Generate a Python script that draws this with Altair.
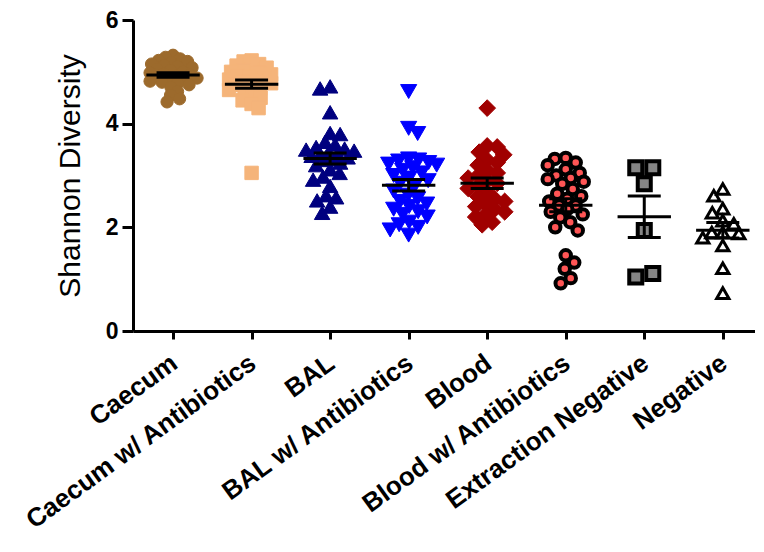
import math
import altair as alt
import pandas as pd

groups = ["Caecum", "Caecum w/ Antibiotics", "BAL", "BAL w/ Antibiotics", "Blood",
          "Blood w/ Antibiotics", "Extraction Negative", "Negative"]

caecum = [5.32, 5.28, 5.25, 5.22, 5.20, 5.18, 5.15, 5.12, 5.10, 5.08, 5.05, 5.03, 5.00, 4.98, 4.96,
          4.94, 4.92, 4.90, 4.88, 4.86, 4.84, 4.82, 4.80, 4.78, 4.75, 4.70, 4.62, 4.55, 4.48, 4.42]
caecum_abx = [5.22, 5.20, 5.15, 5.12, 5.08, 5.05, 5.02, 5.00, 4.98, 4.95, 4.92, 4.90, 4.88, 4.85,
              4.82, 4.80, 4.78, 4.75, 4.72, 4.68, 4.65, 4.60, 4.55, 4.50, 4.45, 4.38, 4.30, 3.05]
bal = [4.72, 4.68, 4.22, 3.82, 3.80, 3.65, 3.60, 3.55, 3.52, 3.50, 3.48, 3.45, 3.42, 3.40, 3.38,
       3.35, 3.32, 3.30, 3.25, 3.20, 3.12, 3.05, 2.98, 2.92, 2.80, 2.62, 2.58, 2.52, 2.40, 2.28]
bal_abx = [4.62, 3.91, 3.81, 3.32, 3.30, 3.28, 3.25, 3.22, 3.20, 3.15, 3.10, 3.05, 3.00, 2.95, 2.90,
           2.85, 2.78, 2.70, 2.62, 2.55, 2.50, 2.45, 2.40, 2.35, 2.30, 2.25, 2.20, 2.10, 2.05, 2.00,
           1.95, 1.85]
blood = [4.30, 3.57, 3.55, 3.45, 3.40, 3.30, 3.25, 3.20, 3.10, 3.05, 3.00, 2.95, 2.90, 2.85, 2.80,
         2.75, 2.68, 2.60, 2.55, 2.50, 2.45, 2.40, 2.35, 2.30, 2.25, 2.20, 2.10, 2.05]
blood_abx = [3.34, 3.32, 3.25, 3.20, 3.12, 3.05, 3.00, 2.95, 2.93, 2.88, 2.84, 2.74, 2.65, 2.60,
             2.55, 2.50, 2.42, 2.42, 2.35, 2.30, 2.25, 2.19, 2.10, 2.00, 1.94, 1.46, 1.32, 1.20,
             1.02, 0.92]
extraction_neg = [3.15, 3.15, 2.84, 1.94, 1.04, 1.11]
negative = [2.61, 2.74, 2.36, 2.28, 2.13, 2.07, 1.90, 1.88, 1.80, 1.90, 1.65, 1.21, 0.73]

series = [caecum, caecum_abx, bal, bal_abx, blood, blood_abx, extraction_neg, negative]

# marker styles per group (layout: "swarm" or symmetric "rows")
styles = [
    dict(shape="circle", fill="#9C6A2C", stroke="#9C6A2C", sw=1, size=150, d=7.5, m=24, lay="swarm"),
    dict(shape="square", fill="#F5B47A", stroke="#F5B47A", sw=1, size=180, d=8.0, m=24, lay="swarm"),
    dict(shape="triangle-up", fill="#00007F", stroke="#00007F", sw=1, size=240, d=10.0, m=24, lay="swarm"),
    dict(shape="triangle-down", fill="#0000FF", stroke="#0000FF", sw=1, size=260, d=10.0, m=28, lay="swarm"),
    dict(shape="diamond", fill="#A00000", stroke="#A00000", sw=1, size=280, d=10.0, m=24, lay="swarm"),
    dict(shape="circle", fill="#FF5555", stroke="#000000", sw=4, size=110, d=11.0, m=18, lay="swarm"),
    dict(shape="square", fill="#858585", stroke="#000000", sw=4, size=170, d=17.0, m=24, lay="rows"),
    dict(shape="triangle-up", fill="#FFFFFF", stroke="#000000", sw=3, size=150, d=11.0, m=20, lay="swarm"),
]

W, H = 622, 311
XDOM = [-0.51, 7.41]
PX_X = W / (XDOM[1] - XDOM[0])
PX_Y = H / 6.0


def swarm(vals, d, maxoff, step=0.5):
    order = sorted(range(len(vals)), key=lambda i: -vals[i])
    placed = []
    res = [0.0] * len(vals)
    for n, i in enumerate(order):
        y = vals[i] * PX_Y
        cands = [0.0]
        k = 1
        sgn = 1 if n % 2 == 0 else -1
        while k * step <= maxoff:
            cands += [sgn * k * step, -sgn * k * step]
            k += 1
        best, bestd = None, -1
        for c in cands:
            md = min([math.hypot(c - px, y - py) for px, py in placed] or [1e9])
            if md >= d:
                best = c
                break
            if md > bestd:
                bestd, best = md, c
        placed.append((best, y))
        res[i] = best
    return res


def rows_layout(vals, d, tol=8.0):
    order = sorted(range(len(vals)), key=lambda i: -vals[i])
    res = [0.0] * len(vals)
    rowset = []
    for i in order:
        y = vals[i] * PX_Y
        if rowset and abs(rowset[-1][0] - y) <= tol:
            rowset[-1][1].append(i)
        else:
            rowset.append((y, [i]))
    for _, members in rowset:
        members = sorted(members, key=lambda i: vals[i])
        n = len(members)
        for k, i in enumerate(members):
            res[i] = (k - (n - 1) / 2.0) * d
    return res


rows = []
for gi, (vals, st) in enumerate(zip(series, styles)):
    if st["lay"] == "rows":
        offs = rows_layout(vals, st["d"])
    else:
        offs = swarm(vals, st["d"], st["m"])
    for v, o in zip(vals, offs):
        rows.append(dict(group=groups[gi], idx=gi, x=gi + o / PX_X, value=v,
                         shape=st["shape"], fill=st["fill"], stroke=st["stroke"],
                         sw=st["sw"], size=st["size"]))
df = pd.DataFrame(rows)

FONT = "Liberation Sans"
label_expr = "[" + ",".join("'" + g + "'" for g in groups) + "][datum.value]"

xscale = alt.Scale(domain=XDOM, nice=False, zero=False)
yscale = alt.Scale(domain=[0, 6], nice=False)

xaxis = alt.Axis(values=list(range(8)), labelExpr=label_expr, title=None, grid=False,
                 labelAngle=-36, labelAlign="right", labelBaseline="middle",
                 labelFont=FONT, labelFontWeight="bold", labelFontSize=26, labelColor="black",
                 labelPadding=21, labelOffset=1, labelLimit=500, labelOverlap=False,
                 labelFlush=False, labelBound=False,
                 tickSize=8, tickWidth=3, tickColor="black",
                 domainWidth=3, domainColor="black")
yaxis = alt.Axis(values=[0, 2, 4, 6], title="Shannon Diversity", grid=False,
                 labelFont=FONT, labelFontWeight="bold", labelFontSize=23, labelColor="black",
                 labelPadding=4, tickSize=11, tickWidth=3, tickColor="black",
                 domainWidth=3, domainColor="black",
                 titleFont=FONT, titleFontWeight="normal", titleFontSize=30, titleColor="black",
                 titlePadding=20)

base = alt.Chart(df)

points = base.mark_point(filled=True, opacity=1).encode(
    x=alt.X("x:Q", scale=xscale, axis=xaxis),
    y=alt.Y("value:Q", scale=yscale, axis=yaxis),
    shape=alt.Shape("shape:N", scale=None),
    fill=alt.Fill("fill:N", scale=None),
    stroke=alt.Stroke("stroke:N", scale=None),
    strokeWidth=alt.StrokeWidth("sw:Q", scale=None),
    size=alt.Size("size:Q", scale=None),
)

summary = base.transform_aggregate(
    mean="mean(value)", se="stderr(value)", groupby=["idx"]
).transform_calculate(
    lo="datum.mean - datum.se", hi="datum.mean + datum.se",
    ml="datum.idx - 0.34", mr="datum.idx + 0.34",
    cl="datum.idx - 0.21", cr="datum.idx + 0.21",
)

mean_line = summary.mark_rule(color="black", strokeWidth=3).encode(
    x=alt.X("ml:Q", scale=xscale), x2="mr:Q", y=alt.Y("mean:Q", scale=yscale))
cap_hi = summary.mark_rule(color="black", strokeWidth=3).encode(
    x=alt.X("cl:Q", scale=xscale), x2="cr:Q", y=alt.Y("hi:Q", scale=yscale))
cap_lo = summary.mark_rule(color="black", strokeWidth=3).encode(
    x=alt.X("cl:Q", scale=xscale), x2="cr:Q", y=alt.Y("lo:Q", scale=yscale))
vbar = summary.mark_rule(color="black", strokeWidth=3).encode(
    x=alt.X("idx:Q", scale=xscale), y=alt.Y("lo:Q", scale=yscale), y2="hi:Q")

chart = alt.layer(points, mean_line, cap_hi, cap_lo, vbar).properties(
    width=W, height=H,
    autosize=alt.AutoSizeParams(type="none"),
    padding={"left": 125, "top": 12, "right": 0, "bottom": 210},
    background="white",
).configure_view(strokeWidth=0)

chart.save("out.html", embed_options={"renderer": "svg", "actions": False})
